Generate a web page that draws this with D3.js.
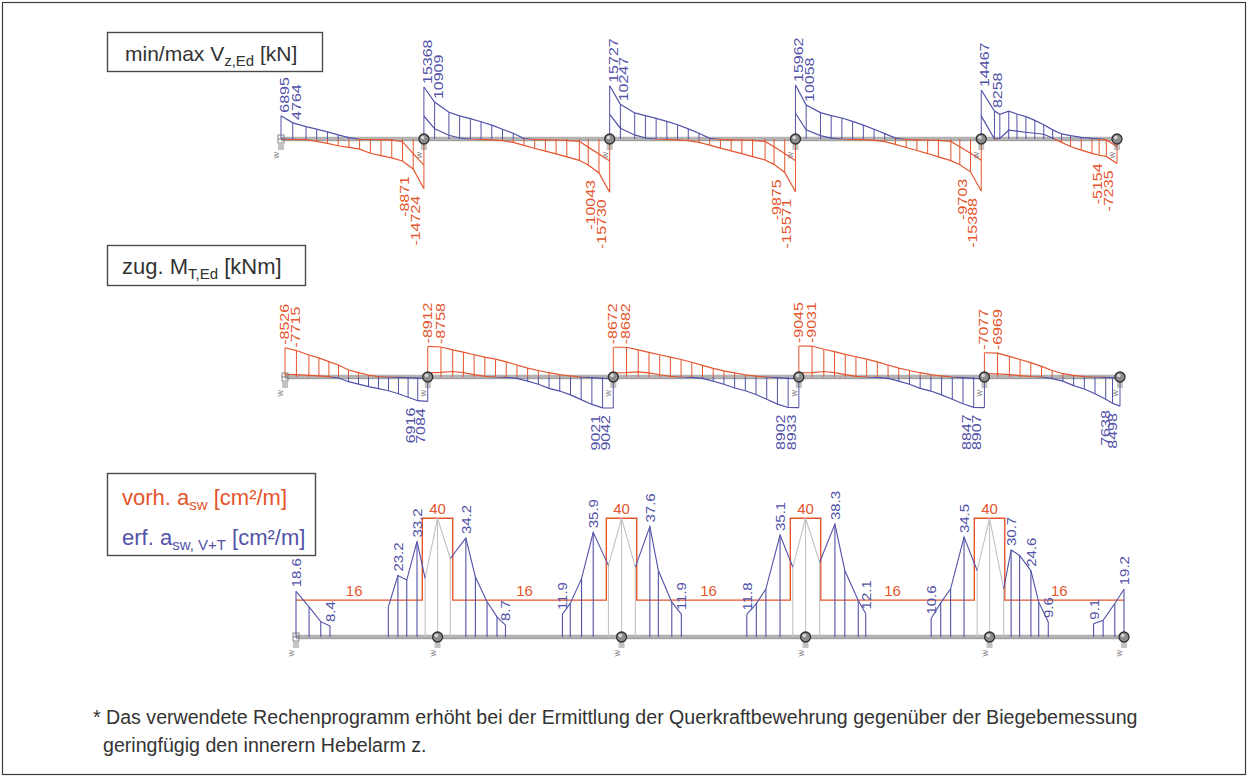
<!DOCTYPE html>
<html>
<head>
<meta charset="utf-8">
<script src="https://cdn.jsdelivr.net/npm/d3@7"></script>
<style>
  body { margin: 0; background: #fff; }
  svg { display: block; }
  text { font-family: Arial, "Liberation Sans", sans-serif; }
</style>
</head>
<body>
<svg id="chart" width="1249" height="778"></svg>
<script>
// ---------------------------------------------------------------
// Continuous box girder, 5 spans: shear, torsion and stirrup area
// ---------------------------------------------------------------

// span lengths [m]
const spanLengths = [40, 52, 52, 52, 38];

// --- shear force envelope min/max V_z,Ed [kN] ---
// stations along each span [m from the left support]
const shearStations = [
  [0, 3.3, 7, 10, 13, 16, 19, 22, 25, 28, 31, 34, 37, 40],
  [0, 3, 7, 10, 13, 16, 19, 22, 25, 28, 31, 34, 37, 40, 43.5, 46, 49, 52],
  [0, 3, 7, 10, 13, 16, 19, 22, 25, 28, 31, 34, 37, 40, 43.5, 46, 49, 52],
  [0, 3, 7, 10, 13, 16, 19, 22, 25, 28, 31, 34, 37, 40, 43.5, 46, 49, 52],
  [0, 3.7, 5.2, 7.7, 10, 12.5, 15, 17.5, 20, 22.5, 25, 28, 31, 33, 35, 38]
];
const shearMax = [
  [6895, 4764, 3650, 2900, 2100, 1200, 400, -100, -150, -200, -250, -800, -4300, -7700],
  [15368, 10909, 7900, 6830, 6000, 5100, 4100, 2900, 1700, 150, -150, -250, -300, -400, -700, -2400, -4450, -6500],
  [15727, 10247, 7700, 6900, 6100, 5200, 4200, 3000, 1700, 200, -150, -250, -300, -400, -700, -2300, -4300, -6400],
  [15962, 10058, 7800, 6900, 6200, 5200, 4100, 2900, 1600, 250, -150, -250, -300, -400, -700, -2300, -4200, -6300],
  [14467, 8258, 7300, 8200, 7400, 6600, 5500, 4200, 2700, 1500, 1000, 500, 200, 50, -200, -2300]
];
const shearMin = [
  [-50, -100, -200, -700, -1300, -2000, -2500, -3000, -4200, -4900, -5600, -6500, -8871, -14724],
  [6800, 3000, 1100, 300, 0, -100, -250, -500, -1000, -1900, -2800, -3600, -4400, -5300, -6300, -7700, -10043, -15730],
  [7300, 3200, 1200, 300, 0, -100, -250, -500, -1000, -1800, -2700, -3500, -4300, -5200, -6200, -7500, -9875, -15571],
  [7600, 2700, 1000, 250, 0, -100, -200, -400, -800, -1600, -2500, -3400, -4300, -5300, -6400, -7600, -9703, -15388],
  [6830, 0, 200, 2600, 2300, 2000, 1700, 1400, 200, -1000, -2200, -3300, -4250, -4800, -5154, -7235]
];

// --- associated torsional moment M_T,Ed [kNm] ---
const torsionStations = [
  [0, 3.2, 6.7, 9.5, 12.3, 15, 17.8, 20.6, 23.4, 26.2, 29, 31.8, 34.5, 37.2, 40],
  [0, 3.7, 7, 10, 13, 16, 19, 22, 25, 28, 31, 34, 37, 40, 43, 46, 49, 52],
  [0, 3.7, 7, 10, 13, 16, 19, 22, 25, 28, 31, 34, 37, 40, 43, 46, 49, 52],
  [0, 3.7, 7, 10, 13, 16, 19, 22, 25, 28, 31, 34, 37, 40, 43, 46, 49, 52],
  [0, 3.7, 7, 10, 13, 16, 19, 22, 25, 28, 31, 34, 35.9, 38]
];
const torsionMin = [
  [-8526, -7715, -6430, -5560, -4470, -3510, -2050, -1260, -580, -90, 0, 100, 200, 300, 300],
  [-8912, -8758, -7900, -7250, -6500, -5800, -5200, -4400, -3500, -2600, -1900, -1250, -700, -300, 0, 200, 400, 500],
  [-8672, -8682, -7900, -7200, -6500, -5800, -5100, -4300, -3400, -2500, -1800, -1200, -650, -250, 0, 200, 400, 500],
  [-9045, -9031, -8100, -7400, -6600, -5900, -5200, -4400, -3500, -2600, -1900, -1250, -700, -300, 0, 200, 400, 500],
  [-7077, -6969, -6020, -5100, -4200, -3100, -1900, -960, -450, -100, 0, 100, 200, 300]
];
const torsionMax = [
  [-800, -700, -500, -300, -100, 300, 1370, 2100, 2830, 3400, 4000, 4900, 5900, 6916, 7084],
  [-1200, -1340, -1600, -1300, -700, -200, 0, 100, 400, 1200, 2100, 3300, 4100, 5200, 6600, 8000, 9021, 9042],
  [-1200, -1300, -1500, -1200, -650, -200, 0, 100, 400, 1200, 2100, 3200, 4000, 5100, 6500, 7900, 8902, 8933],
  [-1200, -1300, -1600, -1300, -700, -200, 0, 100, 400, 1200, 2100, 3300, 4100, 5200, 6500, 7800, 8847, 8907],
  [-1000, -900, -700, -400, -150, 0, 500, 1200, 2500, 3500, 4900, 6500, 7638, 8498]
];

// --- provided stirrup area vorh. a_sw [cm²/m]: [from m, to m, value] ---
const vorhSteps = [
  [0, 35.7, 16], [35.7, 44.3, 40], [44.3, 87.7, 16], [87.7, 96.3, 40],
  [96.3, 139.7, 16], [139.7, 148.3, 40], [148.3, 191.7, 16], [191.7, 200.3, 40],
  [200.3, 234, 16]
];

// --- required stirrup area erf. a_sw,V+T [cm²/m] around each support ---
// [offset from support axis m, value, labelled (1) or not (0)]
const erfAtSupports = [
  [[0, 18.6, 1], [3.7, 14.0, 0], [7.0, 9.7, 0], [9.6, 8.4, 1]],
  [[-13.9, 14.0, 0], [-11.2, 23.2, 1], [-8.7, 21.9, 0], [-5.8, 33.2, 1], [-3.5, 22.4, 0], [0, 40, 0],
   [3.6, 28.2, 0], [8.0, 34.2, 1], [10.7, 22.8, 0], [14.0, 15.5, 0], [16.8, 11.1, 0], [19.2, 8.7, 1]],
  [[-16.7, 11.9, 1], [-14.5, 15.0, 0], [-11.3, 22.3, 0], [-8.0, 35.9, 1], [-3.7, 26.2, 0], [0, 40, 0],
   [3.9, 25.7, 0], [8.0, 37.6, 1], [10.4, 24.7, 0], [14.2, 15.4, 0], [16.9, 11.9, 1]],
  [[-16.6, 11.8, 1], [-13.9, 15.0, 0], [-11.2, 19.3, 0], [-7.2, 35.1, 1], [-3.6, 25.7, 0], [0, 40, 0],
   [4.0, 27.1, 0], [8.3, 38.3, 1], [11.1, 24.7, 0], [14.9, 15.9, 0], [17.0, 12.1, 1]],
  [[-16.5, 10.6, 1], [-13.8, 15.2, 0], [-11.0, 19.3, 0], [-7.2, 34.5, 1], [-3.5, 24.7, 0], [0, 40, 0],
   [4.0, 19.3, 0], [6.1, 30.7, 1], [8.5, 29.1, 0], [11.7, 24.6, 1], [13.9, 15.4, 0], [16.6, 9.6, 1]],
  [[-8.6, 9.1, 1], [-5.9, 10.1, 0], [-2.6, 15.0, 0], [0, 19.2, 1]]
];

// ---------------------------------------------------------------
const W = 1249, H = 778;
const RED = "#e5552d", BLUE = "#5252a8", GREY = "#c2c2c2", BEAM = "#b3b3b3", INK = "#333";

const supportPos = [0];
spanLengths.forEach(L => supportPos.push(supportPos[supportPos.length - 1] + L));
const totalLength = supportPos[supportPos.length - 1];

const svg = d3.select("#chart");
svg.append("rect").attr("width", W).attr("height", H).attr("fill", "#fff");
svg.append("rect").attr("x", 2.5).attr("y", 2.5).attr("width", W - 6).attr("height", H - 6)
  .attr("fill", "none").attr("stroke", "#3c3c3c").attr("stroke-width", 1.2);
const defs = svg.append("defs");

function clipRect(id, x, y, w, h) {
  defs.append("clipPath").attr("id", id).append("rect")
    .attr("x", x).attr("y", y).attr("width", w).attr("height", h);
}

// vertical value label (reads bottom to top), slightly condensed
function vLabel(parent, px, py, txt, color, anchor, size, squeeze) {
  parent.append("text")
    .attr("transform", `translate(${px},${py}) rotate(-90) scale(1,${squeeze})`)
    .attr("text-anchor", anchor).attr("font-size", size).attr("fill", color).text(txt);
}

// title box with a subscripted symbol
function titleBox(x, y, w, h, lines) {
  svg.append("rect").attr("x", x + 0.5).attr("y", y + 0.5).attr("width", w).attr("height", h)
    .attr("fill", "#fff").attr("stroke", "#4a4a4a").attr("stroke-width", 1.4);
  lines.forEach(l => {
    const t = svg.append("text").attr("x", l.x).attr("y", l.y)
      .attr("font-size", l.size || 22).attr("fill", l.color);
    t.append("tspan").text(l.main);
    t.append("tspan").attr("font-size", 15).attr("dy", 5).text(l.sub);
    t.append("tspan").attr("dy", -5).text(l.tail);
  });
}

// beam axis and bearing symbols
function drawBeam(g, x, y0) {
  g.append("line").attr("x1", x(0)).attr("x2", x(totalLength)).attr("y1", y0).attr("y2", y0)
    .attr("stroke", BEAM).attr("stroke-width", 4.5);
  g.append("line").attr("x1", x(0)).attr("x2", x(totalLength)).attr("y1", y0 + 1.5).attr("y2", y0 + 1.5)
    .attr("stroke", "#9a9a9a").attr("stroke-width", 0.8);
}
function drawSupports(g, x, y0) {
  supportPos.forEach((s, i) => {
    const sg = g.append("g").attr("transform", `translate(${x(s)},${y0})`);
    for (let k = 0; k < 3; k++) {
      sg.append("line").attr("x1", -3).attr("x2", 3).attr("y1", 6 + 2 * k).attr("y2", 6 + 2 * k)
        .attr("stroke", "#6a6a6a").attr("stroke-width", 0.8);
    }
    sg.append("text").attr("transform", "translate(-2,13) rotate(-90)").attr("text-anchor", "end")
      .attr("font-size", 7).attr("fill", "#777").text("W");
    if (i === 0) {
      sg.append("rect").attr("x", -3).attr("y", -4).attr("width", 6).attr("height", 8)
        .attr("fill", "none").attr("stroke", "#777").attr("stroke-width", 0.9);
      sg.append("line").attr("x1", -3).attr("x2", 3).attr("y1", 0).attr("y2", 0)
        .attr("stroke", "#777").attr("stroke-width", 0.9);
    } else {
      sg.append("circle").attr("r", 5).attr("fill", "#8d8d8d").attr("stroke", "#2e2e2e").attr("stroke-width", 1.3);
      sg.append("circle").attr("r", 1.8).attr("cx", -1.2).attr("cy", -1.5).attr("fill", "#d8d8d8");
    }
  });
}

// envelope diagram (shear or torsion), positive values blue, negative red
function envelopePanel(o) {
  const g = svg.append("g");
  const x = d3.scaleLinear().domain([0, totalLength]).range(o.xRange);
  const y = d3.scaleLinear().domain([0, o.refValue]).range([o.y0, o.refY]);
  const posUp = o.refY < o.y0;
  clipRect(o.id + "-pos", 0, posUp ? o.y0 - 120 : o.y0, W, 120);
  clipRect(o.id + "-neg", 0, posUp ? o.y0 : o.y0 - 120, W, 120);
  drawBeam(g, x, o.y0);

  const hatch = g.append("g").attr("stroke-width", 1);
  const curves = g.append("g").attr("fill", "none").attr("stroke-width", 1.2);
  const labels = g.append("g");
  const line = d3.line().x(p => p.x).y(p => p.y);

  spanLengths.forEach((L, i) => {
    const start = supportPos[i];
    const pts = o.stations[i].map((s, j) => ({ x: x(start + s), max: o.maxV[i][j], min: o.minV[i][j] }));
    pts.forEach(p => {
      if (p.max > 0) hatch.append("line").attr("x1", p.x).attr("x2", p.x).attr("y1", o.y0).attr("y2", y(p.max)).attr("stroke", BLUE);
      if (p.min < 0) hatch.append("line").attr("x1", p.x).attr("x2", p.x).attr("y1", o.y0).attr("y2", y(p.min)).attr("stroke", RED);
    });
    ["max", "min"].forEach(key => {
      const d = line(pts.map(p => ({ x: p.x, y: y(p[key]) })));
      curves.append("path").attr("d", d).attr("stroke", BLUE).attr("clip-path", `url(#${o.id}-pos)`);
      curves.append("path").attr("d", d).attr("stroke", RED).attr("clip-path", `url(#${o.id}-neg)`);
    });
    // values at the support and at the distance d from it
    const n = pts.length;
    const topKey = posUp ? "max" : "min", botKey = posUp ? "min" : "max";
    [pts[0], pts[1]].forEach(p => {
      const v = p[topKey];
      vLabel(labels, p.x + o.topDx, y(v) - 3, String(v), v < 0 ? RED : BLUE, "start", o.fontSize, 0.84);
    });
    [pts[n - 2], pts[n - 1]].forEach(p => {
      const v = p[botKey];
      vLabel(labels, p.x + o.botDx, y(v) + 7, String(v), v < 0 ? RED : BLUE, "end", o.fontSize, 0.84);
    });
  });
  drawSupports(g, x, o.y0);
}

// ---------------- shear ----------------
titleBox(107, 32, 215, 39, [
  { x: 125, y: 61, color: INK, size: 21, main: "min/max V", sub: "z,Ed", tail: " [kN]" }
]);
envelopePanel({
  id: "shear", xRange: [281, 1117], y0: 139, refValue: 15368, refY: 87,
  stations: shearStations, maxV: shearMax, minV: shearMin,
  topDx: 8, botDx: -4, fontSize: 16
});

// ---------------- torsion ----------------
titleBox(107, 245, 198, 40, [
  { x: 122, y: 274, color: INK, main: "zug. M", sub: "T,Ed", tail: " [kNm]" }
]);
envelopePanel({
  id: "torsion", xRange: [285, 1120], y0: 377, refValue: 9042, refY: 408,
  stations: torsionStations, maxV: torsionMax, minV: torsionMin,
  topDx: 4, botDx: -3, fontSize: 16
});

// ---------------- stirrup reinforcement ----------------
titleBox(107, 473, 208, 82, [
  { x: 122, y: 505, color: RED, main: "vorh. a", sub: "sw", tail: " [cm²/m]" },
  { x: 122, y: 545, color: BLUE, main: "erf. a", sub: "sw, V+T", tail: " [cm²/m]" }
]);
(function reinforcementPanel() {
  const g = svg.append("g");
  const x = d3.scaleLinear().domain([0, totalLength]).range([296, 1124]);
  const y = d3.scaleLinear().domain([0, 40]).range([654.7, 518.3]);
  const beamY = 637;
  drawBeam(g, x, beamY);
  const line = d3.line().x(p => p.x).y(p => p.y);

  // provided reinforcement (step line)
  const stepPts = [];
  vorhSteps.forEach(([a, b, v]) => { stepPts.push({ x: x(a), y: y(v) }, { x: x(b), y: y(v) }); });
  g.append("path").attr("d", line(stepPts)).attr("fill", "none").attr("stroke", RED).attr("stroke-width", 1.4);

  const greyG = g.append("g").attr("stroke", GREY).attr("stroke-width", 1.1).attr("fill", "none");
  const blueG = g.append("g").attr("stroke", BLUE).attr("stroke-width", 1.1).attr("fill", "none");
  const lab = g.append("g");

  erfAtSupports.forEach((arr, si) => {
    const P = arr.map(([off, v, l]) => ({ x: x(supportPos[si] + off), y: y(v), v, l, off }));
    const interior = si > 0 && si < supportPos.length - 1;
    const i0 = P.findIndex(p => p.off === 0);
    const greyIdx = interior ? [i0 - 1, i0, i0 + 1] : [];
    P.forEach((p, j) => {
      (greyIdx.includes(j) ? greyG : blueG).append("line")
        .attr("x1", p.x).attr("x2", p.x).attr("y1", beamY).attr("y2", p.y);
    });
    if (interior) {
      blueG.append("path").attr("d", line(P.slice(0, i0)));
      greyG.append("path").attr("d", line(P.slice(i0 - 1, i0 + 2)));
      blueG.append("path").attr("d", line(P.slice(i0 + 1)));
    } else {
      blueG.append("path").attr("d", line(P));
    }
    P.filter(p => p.l).forEach(p => {
      vLabel(lab, p.x + 5, p.y - 4, p.v.toFixed(1), BLUE, "start", 15, 0.88);
    });
  });

  // step values
  vorhSteps.forEach(([a, b, v]) => {
    lab.append("text").attr("x", x((a + b) / 2) - (v === 16 ? 5 : 0)).attr("y", y(v) - 4)
      .attr("text-anchor", "middle").attr("font-size", 15).attr("fill", RED).text(String(v));
  });
  drawSupports(g, x, beamY);
})();

// ---------------- footnote ----------------
const note = svg.append("g").attr("font-size", 19.6).attr("fill", INK);
note.append("text").attr("x", 93).attr("y", 724)
  .text("* Das verwendete Rechenprogramm erhöht bei der Ermittlung der Querkraftbewehrung gegenüber der Biegebemessung");
note.append("text").attr("x", 103).attr("y", 752).text("geringfügig den innerern Hebelarm z.");
</script>
</body>
</html>
